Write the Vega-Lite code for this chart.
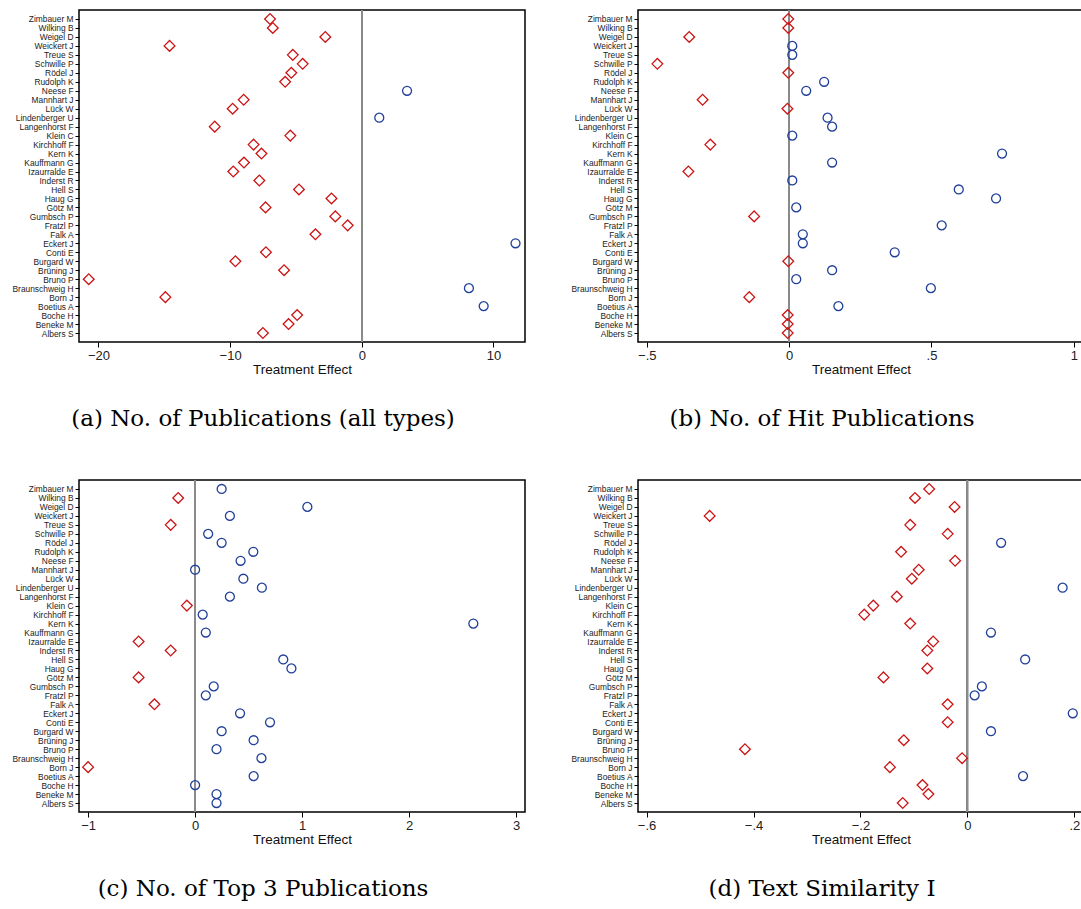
{
"$schema": "https://vega.github.io/schema/vega-lite/v6.json",
"background": "white",
"padding": {"left": 0, "top": 8, "right": 0, "bottom": 0},
"columns": 2,
"bounds": "flush",
"spacing": {"row": 138, "column": 113},
"datasets": {
"a": [
{"n":"Zimbauer M","v":-6.97},{"n":"Wilking B","v":-6.76},{"n":"Weigel D","v":-2.77},{"n":"Weickert J","v":-14.6},{"n":"Treue S","v":-5.24},{"n":"Schwille P","v":-4.49},{"n":"Rödel J","v":-5.35},{"n":"Rudolph K","v":-5.82},{"n":"Neese F","v":3.44},{"n":"Mannhart J","v":-8.97},{"n":"Lück W","v":-9.81},{"n":"Lindenberger U","v":1.33},{"n":"Langenhorst F","v":-11.17},{"n":"Klein C","v":-5.43},{"n":"Kirchhoff F","v":-8.22},{"n":"Kern K","v":-7.62},{"n":"Kauffmann G","v":-8.95},{"n":"Izaurralde E","v":-9.76},{"n":"Inderst R","v":-7.78},{"n":"Hell S","v":-4.77},{"n":"Haug G","v":-2.3},{"n":"Götz M","v":-7.31},{"n":"Gumbsch P","v":-2.01},{"n":"Fratzl P","v":-1.07},{"n":"Falk A","v":-3.52},{"n":"Eckert J","v":11.68},{"n":"Conti E","v":-7.28},{"n":"Burgard W","v":-9.6},{"n":"Brüning J","v":-5.9},{"n":"Bruno P","v":-20.74},{"n":"Braunschweig H","v":8.14},{"n":"Born J","v":-14.92},{"n":"Boetius A","v":9.26},{"n":"Boche H","v":-4.91},{"n":"Beneke M","v":-5.56},{"n":"Albers S","v":-7.51}
],
"b": [
{"n":"Zimbauer M","v":-0.003},{"n":"Wilking B","v":-0.003},{"n":"Weigel D","v":-0.351},{"n":"Weickert J","v":0.011},{"n":"Treue S","v":0.011},{"n":"Schwille P","v":-0.463},{"n":"Rödel J","v":-0.003},{"n":"Rudolph K","v":0.123},{"n":"Neese F","v":0.06},{"n":"Mannhart J","v":-0.304},{"n":"Lück W","v":-0.006},{"n":"Lindenberger U","v":0.135},{"n":"Langenhorst F","v":0.151},{"n":"Klein C","v":0.011},{"n":"Kirchhoff F","v":-0.277},{"n":"Kern K","v":0.748},{"n":"Kauffmann G","v":0.151},{"n":"Izaurralde E","v":-0.354},{"n":"Inderst R","v":0.011},{"n":"Hell S","v":0.596},{"n":"Haug G","v":0.727},{"n":"Götz M","v":0.025},{"n":"Gumbsch P","v":-0.123},{"n":"Fratzl P","v":0.536},{"n":"Falk A","v":0.048},{"n":"Eckert J","v":0.048},{"n":"Conti E","v":0.371},{"n":"Burgard W","v":-0.003},{"n":"Brüning J","v":0.151},{"n":"Bruno P","v":0.025},{"n":"Braunschweig H","v":0.498},{"n":"Born J","v":-0.14},{"n":"Boetius A","v":0.173},{"n":"Boche H","v":-0.005},{"n":"Beneke M","v":-0.005},{"n":"Albers S","v":-0.005}
],
"c": [
{"n":"Zimbauer M","v":0.248},{"n":"Wilking B","v":-0.158},{"n":"Weigel D","v":1.049},{"n":"Weickert J","v":0.325},{"n":"Treue S","v":-0.228},{"n":"Schwille P","v":0.122},{"n":"Rödel J","v":0.248},{"n":"Rudolph K","v":0.544},{"n":"Neese F","v":0.425},{"n":"Mannhart J","v":0},{"n":"Lück W","v":0.451},{"n":"Lindenberger U","v":0.624},{"n":"Langenhorst F","v":0.325},{"n":"Klein C","v":-0.077},{"n":"Kirchhoff F","v":0.071},{"n":"Kern K","v":2.6},{"n":"Kauffmann G","v":0.1},{"n":"Izaurralde E","v":-0.528},{"n":"Inderst R","v":-0.228},{"n":"Hell S","v":0.824},{"n":"Haug G","v":0.9},{"n":"Götz M","v":-0.528},{"n":"Gumbsch P","v":0.174},{"n":"Fratzl P","v":0.1},{"n":"Falk A","v":-0.38},{"n":"Eckert J","v":0.42},{"n":"Conti E","v":0.7},{"n":"Burgard W","v":0.248},{"n":"Brüning J","v":0.547},{"n":"Bruno P","v":0.2},{"n":"Braunschweig H","v":0.62},{"n":"Born J","v":-1.0},{"n":"Boetius A","v":0.547},{"n":"Boche H","v":0},{"n":"Beneke M","v":0.2},{"n":"Albers S","v":0.2}
],
"d": [
{"n":"Zimbauer M","v":-0.0715},{"n":"Wilking B","v":-0.098},{"n":"Weigel D","v":-0.024},{"n":"Weickert J","v":-0.482},{"n":"Treue S","v":-0.107},{"n":"Schwille P","v":-0.037},{"n":"Rödel J","v":0.063},{"n":"Rudolph K","v":-0.124},{"n":"Neese F","v":-0.023},{"n":"Mannhart J","v":-0.091},{"n":"Lück W","v":-0.104},{"n":"Lindenberger U","v":0.178},{"n":"Langenhorst F","v":-0.132},{"n":"Klein C","v":-0.176},{"n":"Kirchhoff F","v":-0.193},{"n":"Kern K","v":-0.107},{"n":"Kauffmann G","v":0.044},{"n":"Izaurralde E","v":-0.064},{"n":"Inderst R","v":-0.075},{"n":"Hell S","v":0.108},{"n":"Haug G","v":-0.075},{"n":"Götz M","v":-0.157},{"n":"Gumbsch P","v":0.027},{"n":"Fratzl P","v":0.0135},{"n":"Falk A","v":-0.037},{"n":"Eckert J","v":0.197},{"n":"Conti E","v":-0.037},{"n":"Burgard W","v":0.044},{"n":"Brüning J","v":-0.119},{"n":"Bruno P","v":-0.416},{"n":"Braunschweig H","v":-0.01},{"n":"Born J","v":-0.145},{"n":"Boetius A","v":0.104},{"n":"Boche H","v":-0.084},{"n":"Beneke M","v":-0.073},{"n":"Albers S","v":-0.121}
]
},
"concat": [
{
"width": 446, "height": 332,
"data": {"name": "a"},
"title": {"text": "(a) No. of Publications (all types)"},
"layer": [
{"mark": {"type": "rule", "color": "#8a8a8a", "strokeWidth": 1.2}, "encoding": {"x": {"datum": 0, "type": "quantitative"}}},
{"mark": {"type": "point", "filled": false, "strokeWidth": 1.3, "opacity": 1},
"encoding": {
"x": {"field": "v", "type": "quantitative", "scale": {"domain": [-21.48, 12.4], "nice": false, "zero": false}, "axis": {"values": [-20, -10, 0, 10], "format": "~g", "title": "Treatment Effect"}},
"y": {"field": "n", "type": "ordinal", "scale": {"type": "point", "padding": 1, "domain": ["Zimbauer M","Wilking B","Weigel D","Weickert J","Treue S","Schwille P","Rödel J","Rudolph K","Neese F","Mannhart J","Lück W","Lindenberger U","Langenhorst F","Klein C","Kirchhoff F","Kern K","Kauffmann G","Izaurralde E","Inderst R","Hell S","Haug G","Götz M","Gumbsch P","Fratzl P","Falk A","Eckert J","Conti E","Burgard W","Brüning J","Bruno P","Braunschweig H","Born J","Boetius A","Boche H","Beneke M","Albers S"]}, "axis": {"title": null}},
"shape": {"condition": {"test": "datum.v < 0", "value": "diamond"}, "value": "circle"},
"color": {"condition": {"test": "datum.v < 0", "value": "#cc1414"}, "value": "#1f3f9a"},
"size": {"condition": {"test": "datum.v < 0", "value": 115}, "value": 80}
}}
]
},
{
"width": 446, "height": 332,
"data": {"name": "b"},
"title": {"text": "(b) No. of Hit Publications"},
"layer": [
{"mark": {"type": "rule", "color": "#8a8a8a", "strokeWidth": 1.2}, "encoding": {"x": {"datum": 0, "type": "quantitative"}}},
{"mark": {"type": "point", "filled": false, "strokeWidth": 1.3, "opacity": 1},
"encoding": {
"x": {"field": "v", "type": "quantitative", "scale": {"domain": [-0.531, 1.036], "nice": false, "zero": false}, "axis": {"values": [-0.5, 0, 0.5, 1], "title": "Treatment Effect", "labelExpr": "datum.value == 0 ? '0' : replace(format(datum.value, '.1~f'), '0.', '.')"}},
"y": {"field": "n", "type": "ordinal", "scale": {"type": "point", "padding": 1, "domain": ["Zimbauer M","Wilking B","Weigel D","Weickert J","Treue S","Schwille P","Rödel J","Rudolph K","Neese F","Mannhart J","Lück W","Lindenberger U","Langenhorst F","Klein C","Kirchhoff F","Kern K","Kauffmann G","Izaurralde E","Inderst R","Hell S","Haug G","Götz M","Gumbsch P","Fratzl P","Falk A","Eckert J","Conti E","Burgard W","Brüning J","Bruno P","Braunschweig H","Born J","Boetius A","Boche H","Beneke M","Albers S"]}, "axis": {"title": null}},
"shape": {"condition": {"test": "datum.v < 0", "value": "diamond"}, "value": "circle"},
"color": {"condition": {"test": "datum.v < 0", "value": "#cc1414"}, "value": "#1f3f9a"},
"size": {"condition": {"test": "datum.v < 0", "value": 115}, "value": 80}
}}
]
},
{
"width": 446, "height": 332,
"data": {"name": "c"},
"title": {"text": "(c) No. of Top 3 Publications"},
"layer": [
{"mark": {"type": "rule", "color": "#8a8a8a", "strokeWidth": 1.2}, "encoding": {"x": {"datum": 0, "type": "quantitative"}}},
{"mark": {"type": "point", "filled": false, "strokeWidth": 1.3, "opacity": 1},
"encoding": {
"x": {"field": "v", "type": "quantitative", "scale": {"domain": [-1.085, 3.083], "nice": false, "zero": false}, "axis": {"values": [-1, 0, 1, 2, 3], "format": "~g", "title": "Treatment Effect"}},
"y": {"field": "n", "type": "ordinal", "scale": {"type": "point", "padding": 1, "domain": ["Zimbauer M","Wilking B","Weigel D","Weickert J","Treue S","Schwille P","Rödel J","Rudolph K","Neese F","Mannhart J","Lück W","Lindenberger U","Langenhorst F","Klein C","Kirchhoff F","Kern K","Kauffmann G","Izaurralde E","Inderst R","Hell S","Haug G","Götz M","Gumbsch P","Fratzl P","Falk A","Eckert J","Conti E","Burgard W","Brüning J","Bruno P","Braunschweig H","Born J","Boetius A","Boche H","Beneke M","Albers S"]}, "axis": {"title": null}},
"shape": {"condition": {"test": "datum.v < 0", "value": "diamond"}, "value": "circle"},
"color": {"condition": {"test": "datum.v < 0", "value": "#cc1414"}, "value": "#1f3f9a"},
"size": {"condition": {"test": "datum.v < 0", "value": 115}, "value": 80}
}}
]
},
{
"width": 446, "height": 332,
"data": {"name": "d"},
"title": {"text": "(d) Text Similarity I"},
"layer": [
{"mark": {"type": "rule", "color": "#8a8a8a", "strokeWidth": 1.2}, "encoding": {"x": {"datum": 0, "type": "quantitative"}}},
{"mark": {"type": "point", "filled": false, "strokeWidth": 1.3, "opacity": 1},
"encoding": {
"x": {"field": "v", "type": "quantitative", "scale": {"domain": [-0.616, 0.218], "nice": false, "zero": false}, "axis": {"values": [-0.6, -0.4, -0.2, 0, 0.2], "title": "Treatment Effect", "labelExpr": "datum.value == 0 ? '0' : replace(format(datum.value, '.1~f'), '0.', '.')"}},
"y": {"field": "n", "type": "ordinal", "scale": {"type": "point", "padding": 1, "domain": ["Zimbauer M","Wilking B","Weigel D","Weickert J","Treue S","Schwille P","Rödel J","Rudolph K","Neese F","Mannhart J","Lück W","Lindenberger U","Langenhorst F","Klein C","Kirchhoff F","Kern K","Kauffmann G","Izaurralde E","Inderst R","Hell S","Haug G","Götz M","Gumbsch P","Fratzl P","Falk A","Eckert J","Conti E","Burgard W","Brüning J","Bruno P","Braunschweig H","Born J","Boetius A","Boche H","Beneke M","Albers S"]}, "axis": {"title": null}},
"shape": {"condition": {"test": "datum.v < 0", "value": "diamond"}, "value": "circle"},
"color": {"condition": {"test": "datum.v < 0", "value": "#cc1414"}, "value": "#1f3f9a"},
"size": {"condition": {"test": "datum.v < 0", "value": 115}, "value": 80}
}}
]
}
],
"config": {
"view": {"stroke": "#000", "strokeWidth": 1.5},
"axis": {"domain": false, "grid": false, "tickColor": "#000", "tickWidth": 1, "labelColor": "#222", "titleColor": "#111", "labelFont": "Liberation Sans", "titleFont": "Liberation Sans", "titleFontWeight": "normal", "labelFlush": false, "labelOverlap": false},
"axisX": {"tickSize": 5, "labelFontSize": 13, "titleFontSize": 13.5, "labelPadding": 2, "titlePadding": 0},
"axisY": {"tickSize": 4, "labelFontSize": 8.4, "labelPadding": 2, "minExtent": 78, "maxExtent": 78},
"title": {"font": "DejaVu Serif", "fontSize": 23, "fontWeight": "normal", "color": "#000", "orient": "bottom", "anchor": "middle", "frame": "bounds", "offset": 32}
}
}
